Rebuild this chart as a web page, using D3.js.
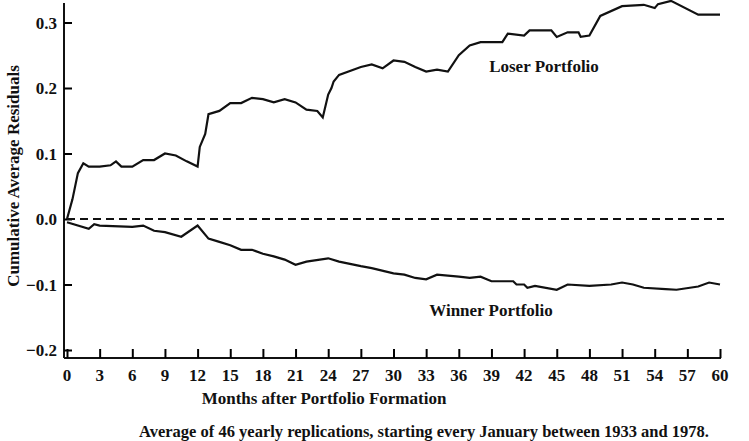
<!DOCTYPE html>
<html><head><meta charset="utf-8">
<script src="https://cdn.jsdelivr.net/npm/d3@7"></script>
<style>body{margin:0;background:#fff}text{font-family:"Liberation Serif",serif;font-weight:bold;fill:#111}</style>
</head><body><div id="c"></div>
<script>
let loser = [[0,0],[0.5,0.03],[1,0.07],[1.5,0.085],[2,0.08],[3,0.08],[4,0.082],[4.5,0.088],[5,0.08],[6,0.08],[7,0.09],[8,0.09],[9,0.1],[10,0.097],[11,0.088],[12,0.08],[12.2,0.11],[12.7,0.13],[13,0.16],[14,0.165],[15,0.177],[16,0.177],[17,0.185],[18,0.183],[19,0.178],[20,0.183],[21,0.178],[22,0.167],[23,0.165],[23.5,0.155],[24,0.19],[24.3,0.2],[24.5,0.21],[25,0.22],[27,0.232],[28,0.236],[29,0.23],[30,0.242],[31,0.24],[32,0.232],[33,0.225],[34,0.228],[35,0.225],[36,0.25],[37,0.265],[38,0.27],[40,0.27],[40.5,0.283],[42,0.28],[42.5,0.288],[44.5,0.288],[45,0.278],[46,0.285],[47,0.285],[47.2,0.278],[48,0.28],[49,0.31],[51,0.325],[53,0.327],[54,0.322],[54.3,0.328],[55.5,0.333],[58,0.312],[60,0.312]];
let winner = [[0,-0.005],[2,-0.015],[2.5,-0.008],[3,-0.01],[6,-0.012],[7,-0.01],[8,-0.018],[9,-0.02],[10.5,-0.027],[12,-0.01],[13,-0.03],[14,-0.035],[15,-0.04],[16,-0.047],[17,-0.047],[18,-0.053],[19,-0.057],[20,-0.062],[21,-0.07],[22,-0.065],[24,-0.06],[25,-0.065],[27,-0.072],[28,-0.075],[30,-0.083],[31,-0.085],[32,-0.09],[33,-0.092],[34,-0.085],[36,-0.088],[37,-0.09],[38,-0.088],[39,-0.095],[41,-0.095],[41.3,-0.1],[42,-0.1],[42.3,-0.105],[43,-0.102],[45,-0.108],[46,-0.1],[48,-0.102],[50,-0.1],[51,-0.097],[52,-0.1],[53,-0.105],[55,-0.107],[56,-0.108],[58,-0.103],[59,-0.097],[60,-0.1]];

let svg = d3.select('#c').append('svg').attr('width',749).attr('height',441);
let x = d3.scaleLinear().domain([0,60]).range([67,720]);
let y = d3.scaleLinear().domain([-0.2,0.3]).range([350,22.5]);

// axes
svg.append('line').attr('x1',64).attr('x2',64).attr('y1',3).attr('y2',358).attr('stroke','#111').attr('stroke-width',2);
svg.append('line').attr('x1',64).attr('x2',721).attr('y1',358).attr('y2',358).attr('stroke','#111').attr('stroke-width',2);
let xa = svg.append('g').attr('transform','translate(0,358)')
  .call(d3.axisTop(x).tickValues(d3.range(0,61,3)).tickSize(9).tickFormat(''));
xa.select('.domain').remove();
xa.selectAll('line').attr('stroke-width',2);
svg.selectAll('.xl').data(d3.range(0,61,3)).enter().append('text')
  .attr('x',d=>x(d)).attr('y',381).attr('text-anchor','middle').style('font-size','17px').text(d=>d);
let ya = svg.append('g').attr('transform','translate(64,0)')
  .call(d3.axisRight(y).tickValues([-0.2,-0.1,0,0.1,0.2,0.3]).tickSize(8).tickFormat(''));
ya.select('.domain').remove();
ya.selectAll('line').attr('stroke-width',2);
svg.selectAll('.yl').data([-0.2,-0.1,0,0.1,0.2,0.3]).enter().append('text')
  .attr('x',57).attr('y',d=>y(d)+6).attr('text-anchor','end').style('font-size','17px')
  .text(d=>d<0?'\u2212'+Math.abs(d).toFixed(1):d.toFixed(1));

svg.append('line').attr('x1',x(0)).attr('x2',x(60)+4).attr('y1',y(0)).attr('y2',y(0))
  .attr('stroke','#111').attr('stroke-width',2).attr('stroke-dasharray','8,5');

let line = d3.line().x(d=>x(d[0])).y(d=>y(d[1]));
[loser,winner].forEach(s=>svg.append('path').attr('d',line(s)).attr('fill','none').attr('stroke','#111').attr('stroke-width',2.2));

svg.append('text').attr('x',544).attr('y',72).attr('text-anchor','middle').style('font-size','17px').text('Loser Portfolio');
svg.append('text').attr('x',491).attr('y',316).attr('text-anchor','middle').style('font-size','17px').text('Winner Portfolio');
svg.append('text').attr('transform','translate(19,176) rotate(-90)').attr('text-anchor','middle').style('font-size','17px').text('Cumulative Average Residuals');
svg.append('text').attr('x',324).attr('y',404).attr('text-anchor','middle').style('font-size','17px').text('Months after Portfolio Formation');
svg.append('text').attr('x',424).attr('y',437).attr('text-anchor','middle').style('font-size','16.5px').text('Average of 46 yearly replications, starting every January between 1933 and 1978.');
</script></body></html>
